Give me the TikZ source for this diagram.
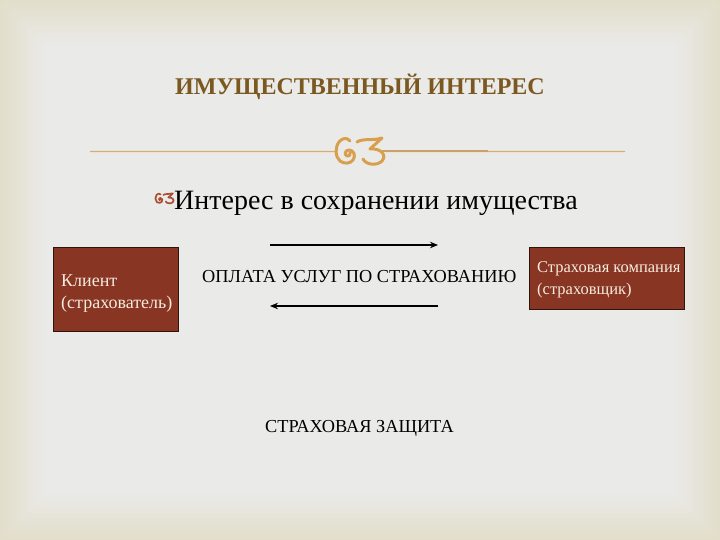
\documentclass[tikz,border=0pt]{standalone}
\usepackage{fontspec}
\setmainfont{Liberation Serif}
\usetikzlibrary{arrows.meta}
\definecolor{bgout}{RGB}{226,222,202}
\definecolor{bgin}{RGB}{234,234,233}
\definecolor{titlec}{RGB}{122,88,32}
\definecolor{linec}{RGB}{206,172,132}
\definecolor{lineglow}{RGB}{240,226,208}
\definecolor{ornc}{RGB}{216,160,78}
\definecolor{tailc}{RGB}{200,162,108}
\definecolor{bulc}{RGB}{172,78,52}
\definecolor{boxc}{RGB}{136,53,35}
\definecolor{boxedge}{RGB}{45,20,12}
\definecolor{boxtxt}{RGB}{246,236,222}
\tikzset{
  boxnode/.style={draw=boxedge, line width=0.9pt, fill=boxc, inner sep=0pt},
  boxtext/.style={text=boxtxt, anchor=base west, inner sep=0pt},
  lbl/.style={font=\fontsize{18.3}{22}\selectfont, anchor=base west, inner sep=0pt},
  flow/.style={line width=1.8pt, -{Stealth[length=8pt,width=6.5pt]}},
  orn/.pic={
    \draw[line cap=round, line join=round]
      (15,4) .. controls (12,0) and (7,1) .. (4,5)
             .. controls (0,10) and (0,20) .. (5,24)
             .. controls (9,27) and (15,27) .. (18,23)
             .. controls (21,19) and (19,13) .. (14,13)
             .. controls (10,13) and (9,18) .. (12,19)
             .. controls (14,20) and (16,18) .. (15,16);
    \draw[line cap=round, line join=round]
      (22,5) .. controls (28,1) and (38,4) .. (47,1)
             -- (35,12)
             .. controls (46,11) and (52,18) .. (47,24)
             .. controls (42,29) and (31,28) .. (28,22);
  }
}
\begin{document}
\begin{tikzpicture}[x=1pt,y=-1pt]
  % background
  \fill[bgout] (0,0) rectangle (720,540);
  \foreach \i in {1,...,48}{
    \pgfmathsetmacro{\p}{100*\i/48}
    \fill[bgin!\p!bgout] (\i,\i) rectangle (720-\i,540-\i);
  }
  \useasboundingbox (0,0) rectangle (720,540);

  % title
  \node[anchor=base, inner sep=0pt, text=titlec, font=\fontsize{24}{28}\selectfont\bfseries] (title) at (360,95) {ИМУЩЕСТВЕННЫЙ ИНТЕРЕС};

  % divider line with ornament
  \coordinate (l1) at (90,152);
  \coordinate (l2) at (335,152);
  \coordinate (l3) at (385,152);
  \coordinate (l4) at (625,152);
  \coordinate (t1) at (382,151);
  \coordinate (t2) at (488,151);
  \draw[lineglow, line width=3pt] (l1) -- (l2);
  \draw[lineglow, line width=3pt] (l3) -- (l4);
  \draw[linec, line width=1pt] (l1) -- (l2);
  \draw[linec, line width=1pt] (l3) -- (l4);
  \draw[tailc, line width=2pt] (t1) -- (t2);
  \pic[color=ornc, line width=3pt] (ornA) at (335,137) {orn};

  % subtitle
  \pic[color=bulc, line width=1.7pt, scale=0.38] (ornB) at (155,193) {orn};
  \node[anchor=base west, inner sep=0pt, font=\fontsize{28}{32}\selectfont] (sub) at (174,210) {Интерес в сохранении имущества};

  % boxes
  \node[boxnode, minimum width=125pt, minimum height=84pt] (client) at (115.5,289) {};
  \node[boxtext, font=\fontsize{18}{22}\selectfont] (clientA) at (61,286) {Клиент};
  \node[boxtext, font=\fontsize{18}{22}\selectfont] (clientB) at (61,308) {(страхователь)};

  \node[boxnode, minimum width=155pt, minimum height=62pt] (insurer) at (606.5,278) {};
  \node[boxtext, font=\fontsize{16.5}{20}\selectfont] (insA) at (537,272) {Страховая компания};
  \node[boxtext, font=\fontsize{16.5}{20}\selectfont] (insB) at (537,294) {(страховщик)};

  % arrows and labels
  \coordinate (a1s) at (270,245);
  \coordinate (a1e) at (438,245);
  \coordinate (a2s) at (438,306);
  \coordinate (a2e) at (270,306);
  \draw[flow] (a1s) -- (a1e);
  \draw[flow] (a2s) -- (a2e);
  \node[lbl] (pay) at (202,282) {ОПЛАТА УСЛУГ ПО СТРАХОВАНИЮ};
  \node[lbl] (prot) at (265,432) {СТРАХОВАЯ ЗАЩИТА};
\end{tikzpicture}
\end{document}
